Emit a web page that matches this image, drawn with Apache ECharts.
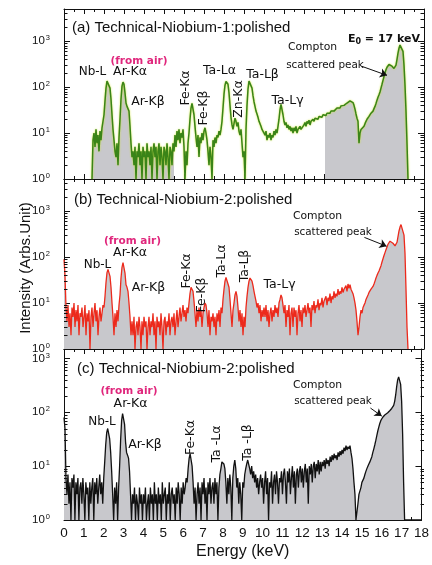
<!DOCTYPE html>
<html><head><meta charset="utf-8">
<script src="https://cdn.jsdelivr.net/npm/echarts@6/dist/echarts.min.js"></script>
<style>html,body{margin:0;padding:0;background:#fff}#c{width:432px;height:565px}</style>
</head><body><div id="c"></div>
<script>
// ---------------- DATA ----------------
const STEP = 0.05;                 // keV between samples
const xMin = 0, xMax = 18;
const yMaxAB = 5000, yMaxC = 1500;
const logMantissas = [2, 3, 4, 5, 6, 7, 8, 9];   // minor tick mantissas per decade

// Panel (a) Technical-Niobium-1, starting at 1.40 keV
const startA = 1.40;
const specA = [
  1, 7, 10, 5, 12, 6, 9, 4, 11, 7, 13, 14,                                   // 1.40-1.95
  25, 50, 95, 135, 147, 130, 95, 55, 25, 12, 7, 4, 3, 6, 2, 8, 20, 55, 105, 128, // 2
  115, 75, 45, 38, 42, 30, 14, 6, 3, 4, 2, 5, 1, 4, 3, 6, 2, 4, 1, 5,       // 3
  3, 4, 1, 6, 3, 4, 2, 5, 1, 4, 6, 3, 5, 1, 4, 6, 2, 5, 3, 1,               // 4
  5, 4, 2, 6, 3, 1, 5, 4, 2, 6, 4, 9, 5, 11, 7, 12, 6, 10, 8, 12,           // 5
  5, 1, 4, 2, 6, 10, 20, 35, 44, 40, 25, 14, 8, 5, 9, 3, 8, 6, 10, 7,       // 6
  11, 13, 10, 7, 4, 2, 5, 3, 1, 7, 5, 8, 6, 9, 8, 11, 9, 12, 18, 35,        // 7
  70, 110, 132, 135, 115, 75, 40, 22, 15, 12, 16, 21, 18, 14, 17, 11, 9, 12, 6, 3, // 8
  4, 1, 12, 40, 90, 135, 147, 130, 95, 65, 48, 38, 30, 26, 22, 18, 16, 14, 12, 13, // 9
  10, 9, 11, 7, 9, 8, 10, 7, 9, 8, 11, 9, 12, 10, 14, 20, 32, 42, 38, 25,   // 10
  18, 15, 17, 13, 15, 12, 14, 11, 13, 10, 13, 11, 14, 10, 12, 11, 14, 12, 13, 11, // 11
  15, 17, 14, 18, 16, 19, 15, 18, 17, 20, 18, 21, 19, 22, 20, 23, 21, 24, 22, 25, // 12
  23, 26, 24, 27, 25, 29, 27, 30, 28, 32, 30, 33, 31, 35, 33, 37, 35, 39, 37, 41, // 13
  40, 43, 42, 45, 47, 44, 50, 48, 52, 46, 40, 33, 26, 21, 18, 6, 10, 12, 11, 13,  // 14
  14, 16, 18, 20, 21, 23, 25, 27, 29, 30, 34, 38, 44, 52, 60, 68, 78, 95, 115, 140, // 15
  170, 205, 240, 270, 295, 310, 312, 300, 285, 265, 255, 260, 300, 400, 550, 700, 820, 860, 800, 600, // 16
  300, 110, 30, 6, 1                                                          // 17
];
const fillRangesA = [[1.40, 5.50], [13.05, 17.20]];

// Panel (b) Technical-Niobium-2, starting at 0 keV
const startB = 0;
const specB = [
  90, 40, 8, 4, 9, 3, 6, 2, 8, 5, 10, 3, 7, 4, 9, 2, 6, 5, 8, 3,            // 0
  5, 9, 2, 6, 4, 7, 1, 5, 8, 3, 6, 10, 4, 7, 2, 5, 8, 4, 6, 9,              // 1
  8, 14, 28, 46, 54, 50, 38, 22, 10, 5, 2, 6, 3, 7, 4, 9, 15, 35, 60, 76,   // 2
  70, 45, 25, 22, 18, 10, 5, 2, 4, 2, 5, 1, 3, 4, 2, 5, 3, 1, 4, 2,         // 3
  5, 3, 4, 1, 3, 5, 2, 4, 3, 6, 2, 4, 1, 5, 3, 4, 2, 6, 3, 1,               // 4
  4, 5, 2, 4, 3, 6, 2, 4, 5, 3, 6, 2, 4, 7, 3, 5, 8, 4, 6, 9,               // 5
  5, 7, 4, 8, 6, 10, 16, 22, 23, 18, 11, 6, 3, 7, 4, 8, 5, 7, 3, 6,         // 6
  8, 10, 9, 6, 3, 7, 2, 5, 4, 6, 3, 5, 2, 6, 4, 7, 3, 8, 6, 12,             // 7
  20, 30, 36, 38, 33, 22, 12, 6, 3, 7, 10, 15, 18, 14, 8, 4, 7, 3, 6, 2,    // 8
  5, 3, 8, 14, 22, 30, 35, 36, 30, 24, 18, 14, 11, 8, 10, 6, 9, 4, 7, 5,    // 9
  8, 5, 9, 4, 7, 3, 6, 8, 4, 7, 5, 9, 6, 8, 5, 10, 12, 15, 13, 9,           // 10
  6, 9, 3, 7, 5, 9, 2, 6, 8, 3, 8, 5, 7, 2, 6, 9, 4, 7, 3, 8,               // 11
  6, 9, 5, 7, 10, 6, 8, 3, 9, 7, 11, 6, 9, 8, 12, 7, 10, 9, 13, 8,          // 12
  11, 10, 14, 9, 13, 11, 16, 10, 14, 12, 18, 13, 16, 14, 20, 15, 18, 16, 22, 17, // 13
  20, 19, 24, 18, 26, 21, 25, 20, 22, 16, 13, 10, 7, 4, 2, 3, 5, 7, 6, 8,   // 14
  9, 10, 12, 13, 15, 17, 18, 20, 22, 23, 26, 30, 35, 40, 45, 50, 55, 65, 78, 92, // 15
  108, 125, 145, 165, 190, 210, 222, 225, 215, 200, 185, 175, 178, 210, 280, 370, 450, 510, 525, 470, // 16
  300, 120, 20, 3, 1                                                          // 17
];

// Panel (c) Technical-Niobium-2, starting at 0 keV
const startC = 0;
const specC = [
  80, 50, 6, 3, 7, 2, 5, 1, 6, 4, 7, 1, 5, 3, 6, 1, 4, 5, 2, 6,             // 0
  3, 1, 5, 3, 4, 1, 5, 2, 4, 6, 1, 5, 3, 6, 2, 4, 7, 3, 5, 2,               // 1
  6, 12, 25, 42, 50, 46, 32, 18, 8, 3, 1, 4, 2, 5, 1, 4, 10, 30, 70, 95,    // 2
  100, 60, 28, 18, 16, 14, 8, 3, 1, 3, 2, 4, 1, 3, 2, 1, 4, 2, 3, 1,        // 3
  3, 2, 4, 1, 2, 3, 1, 4, 2, 3, 1, 5, 2, 3, 1, 4, 2, 3, 1, 5,               // 4
  2, 3, 4, 1, 3, 2, 5, 1, 3, 4, 2, 3, 1, 4, 2, 5, 3, 1, 4, 2,               // 5
  5, 3, 4, 6, 5, 9, 14, 17, 16, 10, 5, 2, 4, 1, 3, 5, 2, 4, 1, 5,           // 6
  3, 6, 2, 4, 1, 5, 3, 6, 2, 4, 5, 2, 6, 3, 5, 1, 4, 7, 9, 12,              // 7
  13, 11, 9, 5, 2, 6, 3, 7, 4, 1, 6, 10, 13, 9, 4, 6, 2, 5, 3, 1,           // 8
  5, 4, 7, 9, 11, 13, 12, 9, 7, 10, 6, 8, 5, 7, 4, 6, 3, 5, 7, 4,           // 9
  6, 2, 5, 8, 3, 6, 1, 5, 4, 8, 2, 5, 7, 3, 8, 5, 2, 6, 5, 8,               // 10
  3, 7, 9, 5, 2, 8, 5, 9, 3, 6, 10, 4, 8, 2, 7, 9, 4, 8, 10, 5,             // 11
  9, 4, 8, 11, 5, 9, 2, 10, 7, 11, 5, 10, 12, 6, 11, 8, 13, 7, 12, 8,       // 12
  12, 10, 13, 9, 14, 11, 13, 10, 15, 12, 16, 13, 17, 14, 16, 13, 18, 15, 19, 16, // 13
  20, 17, 22, 19, 24, 20, 23, 21, 24, 18, 14, 9, 5, 3, 1, 1, 2, 3, 3, 4,    // 14
  5, 5, 6, 7, 8, 9, 10, 11, 12, 13, 15, 18, 21, 25, 30, 37, 45, 53, 62, 70, // 15
  76, 81, 85, 89, 92, 95, 98, 102, 107, 112, 118, 125, 135, 160, 210, 300, 400, 455, 440, 330, // 16
  160, 40, 5, 1, 1, 1, 1, 1, 1, 1, 1, 1, 1, 1, 1, 1, 1, 1, 1, 1, 1          // 17-18
];

// Arrow "Compton scattered peak" end points [keV, counts]
const arrowA = [[14.90, 282], [16.15, 180]];
const arrowB = [[15.02, 268], [16.13, 172]];
const arrowC = [[15.43, 120], [16.00, 85]];

// ---------------- BUILD ----------------
function toPairs(start, vals) {
  return vals.map((v, i) => [+(start + i * STEP).toFixed(2), v]);
}
const dataA = toPairs(startA, specA);
const dataB = toPairs(startB, specB);
const dataC = toPairs(startC, specC);
const fillA = dataA.map(([x, v]) =>
  [x, fillRangesA.some(([a, b]) => x >= a - 1e-6 && x <= b + 1e-6) ? v : null]);

function minorValues(max) {
  const out = [];
  for (let d = 1; d < max; d *= 10) logMantissas.forEach(m => { if (m * d < max) out.push(m * d); });
  return out;
}

const AX = '#111';
const SANS = 'Liberation Sans, Arial, sans-serif';
const DJ = 'DejaVu Sans, sans-serif';
const FILL = '#c8c8cc';

const grids = [
  { left: 64, width: 360, top: 9, height: 170 },
  { left: 64, width: 360, top: 179, height: 170 },
  { left: 64, width: 360, top: 349, height: 171 }
];
const yMaxes = [yMaxAB, yMaxAB, yMaxC];

function xAx(i, pos, labels) {
  return {
    type: 'value', gridIndex: i, position: pos, min: xMin, max: xMax, interval: 1,
    axisLine: { show: true, onZero: false, lineStyle: { color: AX, width: 1 } },
    axisTick: { show: true, inside: true, length: 5, lineStyle: { color: AX, width: 1 } },
    minorTick: { show: true, splitNumber: 2, length: 3, lineStyle: { color: AX, width: 1 } },
    splitLine: { show: false },
    axisLabel: { show: labels, margin: 6, fontSize: 13.5, color: AX, fontFamily: SANS },
    name: labels ? 'Energy (keV)' : '', nameLocation: 'middle', nameGap: 24,
    nameTextStyle: { fontSize: 16, color: AX, fontFamily: SANS }
  };
}
function yAx(i, pos, max, labels) {
  return {
    type: 'log', logBase: 10, gridIndex: i, position: pos, min: 1, max: max,
    axisLine: { show: true, onZero: false, lineStyle: { color: AX, width: 1 } },
    axisTick: { show: true, inside: true, length: 6, lineStyle: { color: AX, width: 1 } },
    minorTick: { show: false },
    splitLine: { show: false },
    axisLabel: {
      show: labels, margin: 14, fontSize: 11.5, color: AX, fontFamily: SANS,
      showMaxLabel: false,
      formatter: v => '10{s|' + Math.round(Math.log10(v)) + '}',
      rich: { s: { fontSize: 7.5, verticalAlign: 'top', color: AX, fontFamily: SANS, padding: [0, 0, 6, 1] } }
    }
  };
}

function arrowLine(pts) {
  return {
    silent: true, animation: false, symbol: ['none', 'arrow'], symbolSize: 7,
    lineStyle: { color: AX, width: 1, type: 'solid' }, label: { show: false },
    data: [[{ coord: pts[0] }, { coord: pts[1] }]]
  };
}

function txt(x, y, text, size, opts) {
  opts = opts || {};
  return {
    type: 'text', x: x, y: y, rotation: opts.rot ? Math.PI / 2 : 0, z: 100,
    style: {
      text: text, fontSize: size, fontFamily: opts.font || DJ,
      fontWeight: opts.bold ? 'bold' : 'normal', fill: opts.color || AX,
      align: opts.align || 'center', verticalAlign: 'middle',
      textAlign: opts.align || 'center', textVerticalAlign: 'middle',
      rich: opts.rich
    }
  };
}
const MAG = '#e0267c';
const eRich = {
  b: { fontSize: 11, fontWeight: 'bold', fontFamily: DJ, fill: AX, color: AX },
  s: { fontSize: 8, fontWeight: 'bold', fontFamily: DJ, fill: AX, color: AX, verticalAlign: 'bottom', padding: [5, 0, 0, 0] }
};

const graphics = [
  // axis title
  txt(26, 268, 'Intensity (Arbs.Unit)', 15, { rot: true, font: SANS }),
  // panel titles
  txt(72, 28, '(a) Technical-Niobium-1:polished', 15, { align: 'left', font: SANS }),
  txt(74, 200, '(b) Technical-Niobium-2:polished', 15, { align: 'left', font: SANS }),
  txt(77, 369, '(c) Technical-Niobium-2:polished', 15, { align: 'left', font: SANS }),
  // panel a
  txt(139, 61, '(from air)', 10.5, { bold: true, color: MAG }),
  txt(92.5, 71.5, 'Nb-L', 12),
  txt(130, 71.5, 'Ar-Kα', 12.5),
  txt(148, 102, 'Ar-Kβ', 12.5),
  txt(185.5, 88, 'Fe-Kα', 12.5, { rot: true }),
  txt(204, 108, 'Fe-Kβ', 12.5, { rot: true }),
  txt(219.5, 71, 'Ta-Lα', 12.5),
  txt(239, 99, 'Zn-Kα', 12.5, { rot: true }),
  txt(262.5, 75, 'Ta-Lβ', 12.5),
  txt(287.5, 101, 'Ta-Lγ', 12.5),
  txt(312.5, 47.5, 'Compton', 10.8),
  txt(325, 65, 'scattered peak', 10.4),
  txt(384, 39, '{b|E}{s|0}{b| = 17 keV}', 11, { rich: eRich }),
  // panel b
  txt(132.5, 241, '(from air)', 10.5, { bold: true, color: MAG }),
  txt(97.5, 265, 'Nb-L', 12),
  txt(130, 253, 'Ar-Kα', 12.5),
  txt(148.5, 288, 'Ar-Kβ', 12.5),
  txt(187, 271, 'Fe-Kα', 12.5, { rot: true }),
  txt(202, 295, 'Fe-Kβ', 12.5, { rot: true }),
  txt(222, 261, 'Ta-Lα', 12.5, { rot: true }),
  txt(245, 266, 'Ta-Lβ', 12.5, { rot: true }),
  txt(279.5, 285, 'Ta-Lγ', 12.5),
  txt(317.5, 216, 'Compton', 10.8),
  txt(333, 232, 'scattered peak', 10.4),
  // panel c
  txt(129, 391, '(from air)', 10.5, { bold: true, color: MAG }),
  txt(130.5, 403.5, 'Ar-Kα', 12.5),
  txt(102, 421.5, 'Nb-L', 12),
  txt(145, 445, 'Ar-Kβ', 12.5),
  txt(191, 437.5, 'Fe-Kα', 12.5, { rot: true }),
  txt(216.5, 444, 'Ta -Lα', 12.5, { rot: true }),
  txt(247.5, 442.5, 'Ta -Lβ', 12.5, { rot: true }),
  txt(317.5, 385, 'Compton', 10.8),
  txt(333, 401.5, 'scattered peak', 10.4)
];

// minor log ticks (2..9 per decade) on the left and right frame of each panel,
// placed on the same log mapping as the panel's y axis (min 1 .. max)
const tickLines = [];
grids.forEach((g, i) => {
  const span = Math.log10(yMaxes[i]);
  minorValues(yMaxes[i]).forEach(v => {
    const yy = Math.round(g.top + g.height * (1 - Math.log10(v) / span)) + 0.5;
    const xl = g.left, xr = g.left + g.width;
    tickLines.push({ type: 'line', z: 50, silent: true, shape: { x1: xl, y1: yy, x2: xl + 3.5, y2: yy }, style: { stroke: AX, lineWidth: 1 } });
    tickLines.push({ type: 'line', z: 50, silent: true, shape: { x1: xr, y1: yy, x2: xr - 3.5, y2: yy }, style: { stroke: AX, lineWidth: 1 } });
  });
});

const option = {
  animation: false,
  backgroundColor: '#fff',
  grid: grids,
  xAxis: [xAx(0, 'bottom', false), xAx(1, 'bottom', false), xAx(2, 'bottom', true),
          xAx(0, 'top', false), xAx(1, 'top', false), xAx(2, 'top', false)],
  yAxis: [yAx(0, 'left', yMaxAB, true), yAx(1, 'left', yMaxAB, true), yAx(2, 'left', yMaxC, true),
          yAx(0, 'right', yMaxAB, false), yAx(1, 'right', yMaxAB, false), yAx(2, 'right', yMaxC, false)],
  series: [
    { type: 'line', xAxisIndex: 0, yAxisIndex: 0, data: fillA, showSymbol: false, connectNulls: false,
      lineStyle: { width: 0, opacity: 0 }, areaStyle: { color: FILL, opacity: 1, origin: 'start' }, silent: true, z: 1 },
    { type: 'line', xAxisIndex: 0, yAxisIndex: 0, data: dataA, showSymbol: false,
      lineStyle: { color: '#3a8418', width: 1.5, shadowColor: 'rgba(205,230,40,0.95)', shadowBlur: 2 },
      markLine: arrowLine(arrowA), z: 3 },
    { type: 'line', xAxisIndex: 1, yAxisIndex: 1, data: dataB, showSymbol: false,
      lineStyle: { color: '#ec2a1c', width: 1.3 }, areaStyle: { color: FILL, opacity: 1, origin: 'start' },
      markLine: arrowLine(arrowB), z: 3 },
    { type: 'line', xAxisIndex: 2, yAxisIndex: 2, data: dataC, showSymbol: false,
      lineStyle: { color: '#111', width: 1.3 }, areaStyle: { color: FILL, opacity: 1, origin: 'start' },
      markLine: arrowLine(arrowC), z: 3 }
  ],
  graphic: graphics.concat(tickLines)
};

const chart = echarts.init(document.getElementById('c'), null, { renderer: 'canvas' });
chart.setOption(option);
</script>
</body></html>
